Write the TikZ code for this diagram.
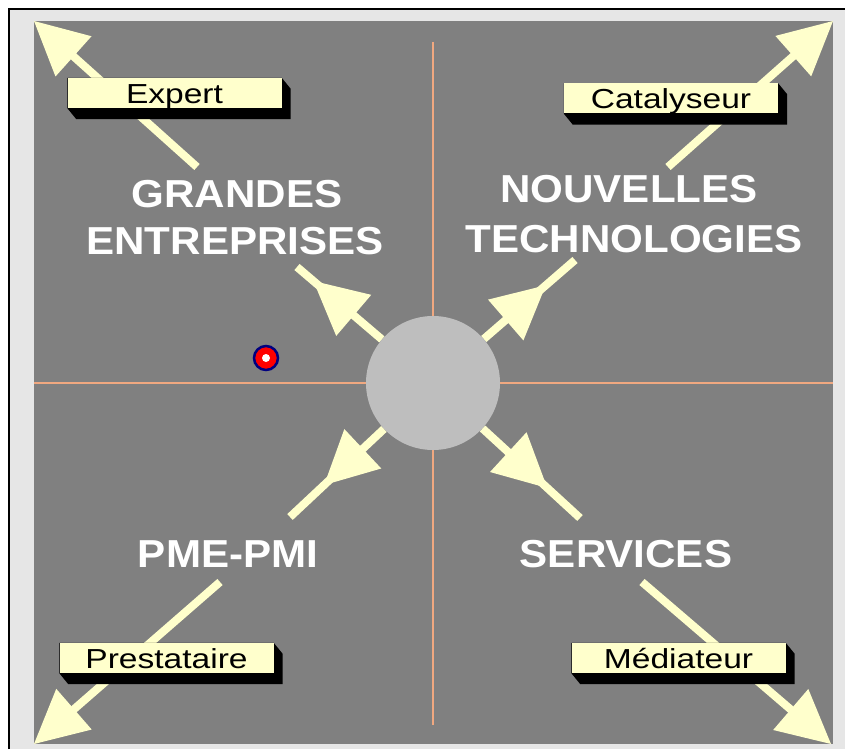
\documentclass[tikz,border=0pt]{standalone}
\usepackage{fontspec}
\usetikzlibrary{calc,decorations.markings}
\newfontfamily\labfont[FakeStretch=1.22]{Liberation Sans}
\newfontfamily\titlefont[FakeStretch=1.08]{Liberation Sans Bold}
\definecolor{panel}{RGB}{128,128,128}
\definecolor{frameg}{RGB}{230,230,230}
\definecolor{pale}{RGB}{255,255,204}
\definecolor{hub}{RGB}{190,190,190}
\definecolor{crossc}{RGB}{240,168,128}
\definecolor{navyring}{RGB}{0,0,128}
\pgfdeclarelayer{bg}\pgfdeclarelayer{arr}\pgfdeclarelayer{shade}
\pgfsetlayers{bg,arr,shade,main}
\begin{document}
\begin{tikzpicture}[x=1pt,y=-1pt,
  shaft/.style={draw=pale, line width=8pt},
  headat/.style={postaction={decorate}, decoration={markings, mark=at position #1 with {\fill[pale] (0pt,0pt) -- (-53pt,27pt) -- (-53pt,-27pt) -- cycle;}}},
  tag/.style={fill=pale, minimum width=214pt, minimum height=30pt, inner sep=0pt, text height=20pt, text depth=0pt, font=\labfont\fontsize{27.5}{30}\selectfont, text=black},
  title/.style={text=white, font=\titlefont\fontsize{39}{47}\selectfont, inner sep=0pt, anchor=base},
  hubstyle/.style={circle, fill=hub, minimum size=134pt, inner sep=0pt},
  shadowfill/.style={fill=black}
]
\useasboundingbox (0,0) rectangle (845,749);
\begin{pgfonlayer}{bg}
  \fill[white] (0,0) rectangle (845,749);
  \fill[frameg] (9,9) rectangle (845,749);
  \draw[black, line width=2pt] (9,749) -- (9,9) -- (845,9);
  \fill[panel] (34,21) rectangle (833,744);
  \draw[crossc, line width=1.2pt] (433,42) -- (433,725);
  \draw[crossc, line width=1.2pt] (34,383) -- (833,383);
\end{pgfonlayer}

% hub
\node[hubstyle] (c) at (433,383) {};

% marker
\node[circle, fill=red, draw=navyring, line width=2.5pt, minimum size=24pt, inner sep=0pt] (dot) at (266,358) {};
\node[circle, fill=white, minimum size=8pt, inner sep=0pt] (dotc) at (dot) {};

% labels
\node[tag] (ex) at (174.5,93) {Expert};
\node[tag] (ca) at (671,98.5) {Catalyseur};
\node[tag] (pr) at (166.5,658) {Prestataire};
\node[tag] (me) at (678.5,658) {Médiateur};

% titles
\node[title] (g1) at (237,207) {GRANDES};
\node[title] (g2) at (235,254) {ENTREPRISES};
\node[title] (n1) at (629,202) {NOUVELLES};
\node[title] (n2) at (634,252) {TECHNOLOGIES};
\node[title] (p1) at (228,567) {PME-PMI};
\node[title] (s1) at (626,567) {SERVICES};

% coordinates
\coordinate (ulend) at (297,267);
\coordinate (urend) at (575,260);
\coordinate (llend) at (290,517);
\coordinate (lrend) at (580,518);
\coordinate (ultail) at (197,167);
\coordinate (ultip) at (34,21);
\coordinate (urtail) at (668,167);
\coordinate (urtip) at (833,21);
\coordinate (lltail) at (220,582);
\coordinate (lltip) at (34,744);
\coordinate (lrtail) at (642,582);
\coordinate (lrtip) at (831,744);

\begin{pgfonlayer}{arr}
  % inner arrows
  \draw[shaft] (c) -- (ulend);
  \path[headat=90pt] (c) -- (ulend);
  \draw[shaft] (c) -- (urend);
  \path[headat=82pt] (c) -- (urend);
  \draw[shaft] (c) -- (llend);
  \path[headat=82pt] (c) -- (llend);
  \draw[shaft] (c) -- (lrend);
  \path[headat=88pt] (c) -- (lrend);
  % outer arrows
  \draw[shaft] (ultail) -- ($(ultip)!30pt!(ultail)$);
  \path[headat=0.9999] (ultail) -- (ultip);
  \draw[shaft] (urtail) -- ($(urtip)!30pt!(urtail)$);
  \path[headat=0.9999] (urtail) -- (urtip);
  \draw[shaft] (lltail) -- ($(lltip)!30pt!(lltail)$);
  \path[headat=0.9999] (lltail) -- (lltip);
  \draw[shaft] (lrtail) -- ($(lrtip)!30pt!(lrtail)$);
  \path[headat=0.9999] (lrtail) -- (lrtip);
\end{pgfonlayer}

\begin{pgfonlayer}{shade}
  \foreach \b in {ex,ca,pr,me}{
    \fill[shadowfill] (\b.north west) -- (\b.north east) -- ($(\b.north east)+(9,11)$) -- ($(\b.south east)+(9,11)$) -- ($(\b.south west)+(9,11)$) -- (\b.south west) -- cycle;
  }
\end{pgfonlayer}
\end{tikzpicture}
\end{document}
